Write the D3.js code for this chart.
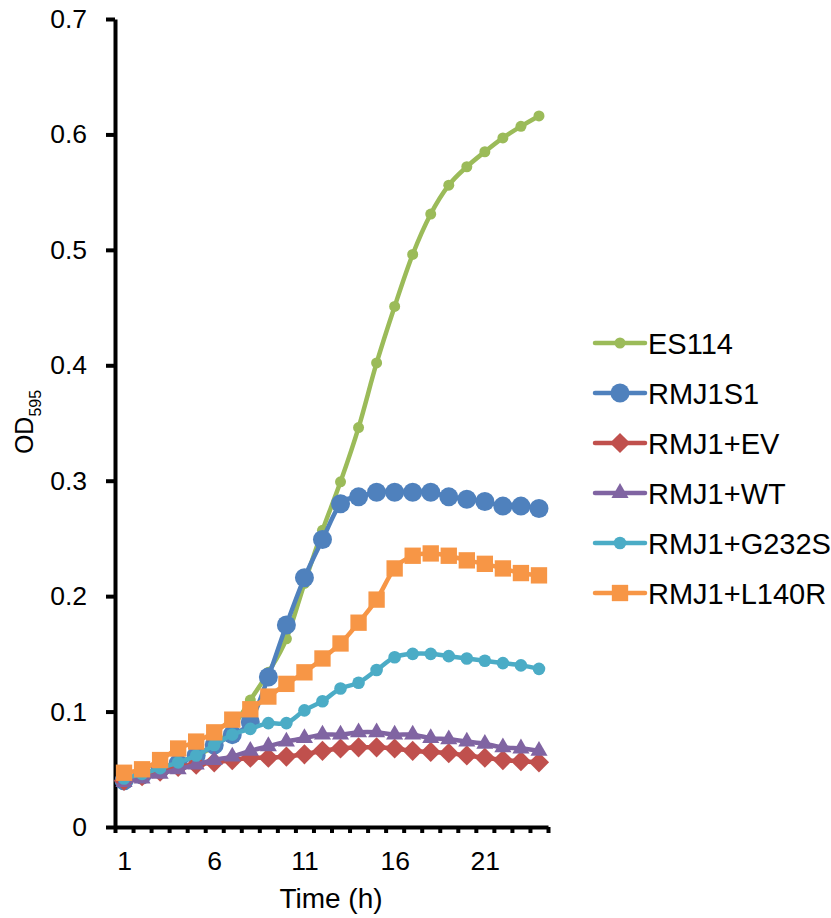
<!DOCTYPE html>
<html>
<head>
<meta charset="utf-8">
<script src="https://cdn.jsdelivr.net/npm/d3@7"></script>
<style>
    body { margin: 0; background: #fff; }
    text { font-family: "Liberation Sans", Arial, sans-serif; fill: #000; }
    .axis path, .axis line { stroke: #000; stroke-width: 4; }
    .axis text { font-size: 26.5px; }
    .series-line { fill: none; stroke-width: 4.5; stroke-linejoin: round; stroke-linecap: round; }
    .legend-label { font-size: 29px; }
</style>
</head>
<body>
<script>
// Chart dimensions
const width = 831;
const height = 918;

// Data
const hours = d3.range(1, 25);
const xTickLabels = [1, 6, 11, 16, 21];
const yTicks = [0, 0.1, 0.2, 0.3, 0.4, 0.5, 0.6, 0.7];

const seriesNames = ["ES114", "RMJ1S1", "RMJ1+EV", "RMJ1+WT", "RMJ1+G232S", "RMJ1+L140R"];
const seriesColors = ["#9BBB59", "#4F81BD", "#C0504D", "#8064A2", "#4BACC6", "#F79646"];

const es114 = [0.040, 0.045, 0.050, 0.056, 0.062, 0.070, 0.086, 0.110, 0.134, 0.163, 0.211, 0.257,
    0.299, 0.346, 0.402, 0.451, 0.496, 0.531, 0.556, 0.572, 0.585, 0.597, 0.607, 0.616];
const rmj1s1 = [0.040, 0.045, 0.050, 0.055, 0.062, 0.071, 0.080, 0.091, 0.130, 0.175, 0.216, 0.249,
    0.280, 0.286, 0.290, 0.290, 0.290, 0.290, 0.286, 0.284, 0.282, 0.278, 0.278, 0.276];
const rmj1EV = [0.040, 0.044, 0.048, 0.052, 0.054, 0.056, 0.058, 0.060, 0.060, 0.061, 0.063, 0.066,
    0.068, 0.069, 0.069, 0.068, 0.066, 0.065, 0.064, 0.062, 0.060, 0.058, 0.057, 0.056];
const rmj1WT = [0.039, 0.042, 0.046, 0.050, 0.054, 0.058, 0.061, 0.066, 0.070, 0.074, 0.077, 0.080,
    0.080, 0.082, 0.082, 0.080, 0.080, 0.077, 0.076, 0.074, 0.072, 0.069, 0.068, 0.066];
const rmj1G232S = [0.042, 0.046, 0.051, 0.056, 0.062, 0.071, 0.080, 0.085, 0.090, 0.090, 0.101, 0.109,
    0.120, 0.125, 0.136, 0.147, 0.150, 0.150, 0.148, 0.146, 0.144, 0.142, 0.140, 0.137];
const rmj1L140R = [0.047, 0.050, 0.058, 0.068, 0.074, 0.082, 0.093, 0.102, 0.113, 0.124, 0.134, 0.146,
    0.159, 0.177, 0.197, 0.224, 0.235, 0.237, 0.235, 0.231, 0.228, 0.224, 0.220, 0.218];

const seriesValues = [es114, rmj1s1, rmj1EV, rmj1WT, rmj1G232S, rmj1L140R];
const markerTypes = ["smallCircle", "bigCircle", "diamond", "triangle", "midCircle", "square"];

// Create the SVG container
const svg = d3.select("body")
    .append("svg")
    .attr("width", width)
    .attr("height", height);

// Scales: categories 1..24 sit in bands between the axis ticks
const xScale = d3.scaleLinear()
    .domain([0.5, 24.5])
    .range([115, 548]);

const yScale = d3.scaleLinear()
    .domain([0, 0.7])
    .range([827, 19]);

// Y axis
svg.append("g")
    .attr("class", "axis")
    .attr("transform", `translate(${xScale(0.5)}, 0)`)
    .call(d3.axisLeft(yScale)
        .tickValues(yTicks)
        .tickSize(9)
        .tickSizeOuter(0)
        .tickPadding(19)
        .tickFormat(d => d === 0 ? "0" : d3.format(".1f")(d)));

// X axis ticks (between categories)
svg.append("g")
    .attr("class", "axis")
    .attr("transform", `translate(0, ${yScale(0)})`)
    .call(d3.axisBottom(xScale)
        .tickValues(d3.range(0.5, 25, 1))
        .tickSize(6)
        .tickSizeOuter(0)
        .tickFormat(""));

// X axis labels
const xLabels = svg.append("g")
    .attr("class", "axis")
    .attr("transform", `translate(0, ${yScale(0)})`)
    .call(d3.axisBottom(xScale)
        .tickValues(xTickLabels)
        .tickSize(0)
        .tickPadding(24)
        .tickFormat(d3.format("d")));
xLabels.select(".domain").remove();

// Symbol generators for markers
const symbolFor = type => {
    if (type === "smallCircle") return d3.symbol(d3.symbolCircle, Math.PI * 5.5 * 5.5);
    if (type === "bigCircle") return d3.symbol(d3.symbolCircle, Math.PI * 9.5 * 9.5);
    if (type === "midCircle") return d3.symbol(d3.symbolCircle, Math.PI * 6.3 * 6.3);
    if (type === "diamond") return d3.symbol(d3.symbolDiamond2, 260);
    if (type === "triangle") return d3.symbol(d3.symbolTriangle2, 210);
    return d3.symbol(d3.symbolSquare2, 340);
};

const line = d3.line()
    .x((d, i) => xScale(hours[i]))
    .y(d => yScale(d))
    .curve(d3.curveCatmullRom.alpha(0));

// Draw the series
seriesValues.forEach((values, s) => {
    const g = svg.append("g");

    g.append("path")
        .datum(values)
        .attr("class", "series-line")
        .attr("stroke", seriesColors[s])
        .attr("d", line);

    g.selectAll("path.marker")
        .data(values)
        .join("path")
        .attr("class", "marker")
        .attr("transform", (d, i) => `translate(${xScale(hours[i])}, ${yScale(d)})`)
        .attr("d", symbolFor(markerTypes[s]))
        .attr("fill", seriesColors[s]);
});

// Axis titles
svg.append("text")
    .attr("x", 331)
    .attr("y", 908)
    .attr("text-anchor", "middle")
    .style("font-size", "28px")
    .text("Time (h)");

const yTitle = svg.append("text")
    .attr("transform", "translate(33, 422) rotate(-90)")
    .attr("text-anchor", "middle")
    .style("font-size", "25px");
yTitle.append("tspan").text("OD");
yTitle.append("tspan")
    .attr("dy", 8)
    .style("font-size", "16px")
    .text("595");

// Legend
const legend = svg.append("g")
    .attr("transform", "translate(595, 343)");

seriesNames.forEach((name, s) => {
    const row = legend.append("g")
        .attr("transform", `translate(0, ${s * 50})`);

    row.append("line")
        .attr("x1", 0)
        .attr("x2", 50)
        .attr("stroke", seriesColors[s])
        .attr("stroke-width", 4.5)
        .attr("stroke-linecap", "round");

    row.append("path")
        .attr("transform", "translate(25, 0)")
        .attr("d", symbolFor(markerTypes[s]))
        .attr("fill", seriesColors[s]);

    row.append("text")
        .attr("class", "legend-label")
        .attr("x", 53)
        .attr("y", 10.5)
        .text(name);
});
</script>
</body>
</html>
